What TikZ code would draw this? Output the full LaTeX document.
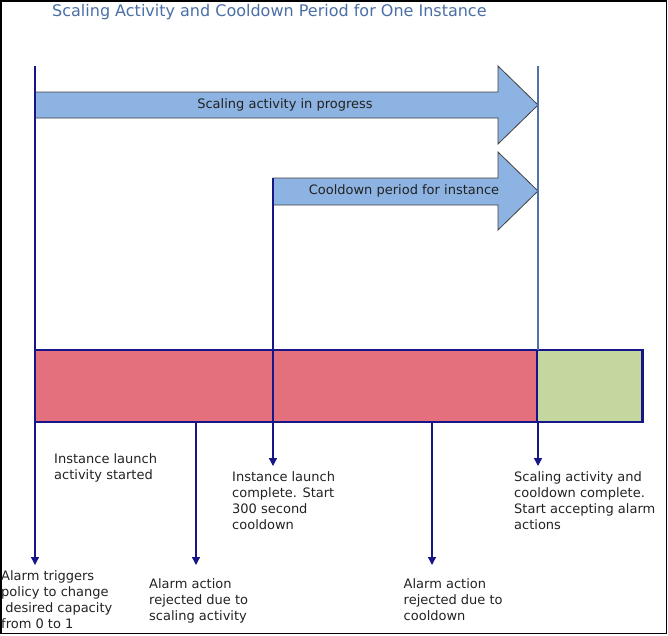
\documentclass[tikz,border=0pt]{standalone}
\usepackage{fontspec}
\setmainfont{DejaVu Sans}
\usepackage{xcolor}
\usetikzlibrary{positioning,arrows.meta}
\definecolor{navy}{HTML}{16168A}
\definecolor{steel}{HTML}{5072A8}
\definecolor{titleblue}{HTML}{4A6FA5}
\definecolor{arrowblue}{HTML}{8DB3E2}
\definecolor{busyred}{HTML}{E3707C}
\definecolor{readygreen}{HTML}{C4D79F}
\definecolor{txtgray}{HTML}{222222}

\begin{document}
\begin{tikzpicture}[x=1pt, y=-1pt,
  lbl/.style={font=\fontsize{13}{16}\selectfont, text=txtgray, inner sep=0pt},
  note/.style={lbl, align=left, anchor=north west},
  evt/.style={navy, line width=1.3pt, -{Triangle[width=8pt,length=8pt]}},
  blk/.style={fill=arrowblue, draw=black!75, line width=0.8pt},
  bar/.style={draw=navy, line width=2.4pt, minimum height=72pt, anchor=north west, inner sep=0pt, outer sep=0pt}]
\useasboundingbox (0,0) rectangle (668,635);
\draw[line width=1.5pt] (0.75,0.75) rectangle (666.5,633.5);
\node[anchor=base west, inner sep=0pt, text=titleblue, font=\fontsize{16}{19}\selectfont] (title) at (52,16) {Scaling Activity and Cooldown Period for One Instance};
% block arrows
\draw[blk] (35,92) -- (498,92) -- (498,66) -- (538,105) -- (498,144) -- (498,118) -- (35,118) -- cycle;
\draw[blk] (273,178) -- (498,178) -- (498,152) -- (538,191) -- (498,230) -- (498,205) -- (273,205) -- cycle;
\node[lbl] (scaling) at (285,105) {Scaling activity in progress};
\node[lbl] (cooldown) at (404,191) {Cooldown period for instance};
% timeline bar
\node[bar, fill=busyred, minimum width=502pt] (busy) at (35,350) {};
\node[bar, fill=readygreen, minimum width=105.5pt] (ready) at (busy.north east) {};
% events
\coordinate (done top) at (538,66);
\draw[steel, line width=1.2pt] (done top) -- (done top |- busy.north);
\foreach \n/\x/\a/\b in {alarm/35/66/565, reject1/196/422/565, launched/273/178/466, reject2/432/422/565, done/538/422/466}
  {\coordinate (\n start) at (\x,\a); \coordinate (\n tip) at (\x,\b);
   \draw[evt] (\n start) -- (\n tip);}
% notes
\node[note] (started) at (54,453.5) {Instance launch\\activity started};
\node[note] (complete) at (232,471) {Instance launch\\complete. Start\\300 second\\cooldown};
\node[note] (accept) at (514,471) {Scaling activity and\\cooldown complete.\\Start accepting alarm\\actions};
\node[note] (trigger) at (1,570) {Alarm triggers\\policy to change\\\ desired capacity\\from 0 to 1};
\node[note] (rejscale) at (149,578) {Alarm action\\rejected due to\\scaling activity};
\node[note] (rejcool) at (403.5,578) {Alarm action\\rejected due to\\cooldown};
\end{tikzpicture}
\end{document}
